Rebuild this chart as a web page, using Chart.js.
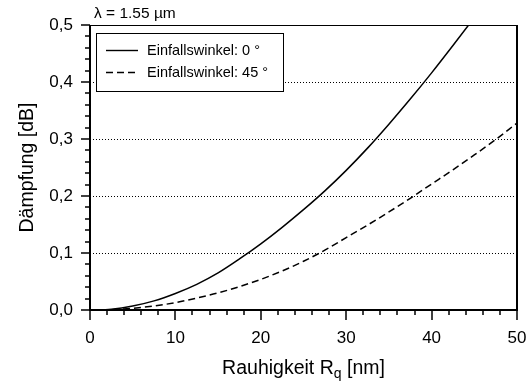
<!DOCTYPE html>
<html>
<head>
<meta charset="utf-8">
<script src="https://cdn.jsdelivr.net/npm/chart.js@4/dist/chart.umd.min.js"></script>
<style>
  body { margin: 0; background: #fff; }
  canvas { display: block; }
</style>
</head>
<body>
<canvas id="daempfungChart" width="527" height="387"></canvas>
<script>
// values
const roughness = [0, 2.5, 5, 7.5, 10, 12.5, 15, 17.5, 20, 22.5, 25, 27.5, 30, 32.5, 35, 37.5, 40, 42.5, 45, 47.5, 50];
const angle0 = [0, 0.0015, 0.007, 0.016, 0.029, 0.045, 0.065, 0.0895, 0.116, 0.145, 0.176, 0.209, 0.245, 0.284, 0.326, 0.370, 0.416, 0.464, 0.513, 0.563, 0.614];
const angle45 = [0, 0.0005, 0.003, 0.007, 0.013, 0.021, 0.030, 0.041, 0.0537, 0.0685, 0.0855, 0.105, 0.127, 0.149, 0.172, 0.196, 0.221, 0.246, 0.272, 0.299, 0.328];
const seriesLabels = ['Einfallswinkel: 0 °', 'Einfallswinkel: 45 °'];
const xTicks = [0, 10, 20, 30, 40, 50];
const yTicks = [0, 0.1, 0.2, 0.3, 0.4, 0.5];

const FONT = "'Liberation Sans', Arial, sans-serif";
Chart.defaults.font.family = FONT;
Chart.defaults.color = '#000';

function toPoints(ys) {
    return roughness.map((x, i) => ({ x: x, y: ys[i] }));
}

// frame, ticks, grid, legend and titles
const decorations = {
    id: 'decorations',
    beforeDatasetsDraw(chart) {
        const { ctx, chartArea: { left, right }, scales: { y } } = chart;
        ctx.save();
        ctx.strokeStyle = '#000';
        ctx.lineWidth = 1;
        ctx.setLineDash([1, 2]);
        yTicks.slice(1, -1).forEach(v => {
            const py = Math.round(y.getPixelForValue(v)) + 0.5;
            ctx.beginPath();
            ctx.moveTo(left, py);
            ctx.lineTo(right, py);
            ctx.stroke();
        });
        ctx.restore();
    },
    afterDraw(chart) {
        const { ctx, chartArea: { left, right, top, bottom }, scales: { x, y } } = chart;
        ctx.save();
        ctx.strokeStyle = '#000';
        ctx.fillStyle = '#000';

        // top border (thin) and right border
        ctx.lineWidth = 1.2;
        ctx.beginPath();
        ctx.moveTo(left, top + 0.5);
        ctx.lineTo(right, top + 0.5);
        ctx.stroke();
        ctx.lineWidth = 2;
        ctx.beginPath();
        ctx.moveTo(right, top);
        ctx.lineTo(right, bottom);
        ctx.stroke();

        // ticks
        ctx.lineWidth = 1.5;
        for (let v = 0; v <= 50.001; v += 2) {
            const px = Math.round(x.getPixelForValue(v));
            const len = Math.abs(v % 10) < 0.01 ? 10 : 5;
            ctx.beginPath();
            ctx.moveTo(px, bottom);
            ctx.lineTo(px, bottom + len);
            ctx.stroke();
        }
        for (let i = 0; i <= 25; i++) {
            const py = Math.round(y.getPixelForValue(i * 0.02));
            const len = i % 5 === 0 ? 9 : 5;
            ctx.beginPath();
            ctx.moveTo(left, py);
            ctx.lineTo(left - len, py);
            ctx.stroke();
        }

        // thick left and bottom axes
        ctx.lineWidth = 2;
        ctx.beginPath();
        ctx.moveTo(left, top);
        ctx.lineTo(left, bottom);
        ctx.lineTo(right + 1, bottom);
        ctx.stroke();

        // legend box
        const bx = left + 6.5, by = top + 8.5, bw = 187, bh = 58;
        ctx.fillStyle = '#fff';
        ctx.fillRect(bx, by, bw, bh);
        ctx.lineWidth = 1;
        ctx.strokeRect(bx, by, bw, bh);
        ctx.fillStyle = '#000';
        ctx.font = '14.5px ' + FONT;
        ctx.textBaseline = 'middle';
        ctx.textAlign = 'left';
        chart.data.datasets.forEach((ds, i) => {
            const ly = by + 17 + i * 22;
            ctx.lineWidth = 1.4;
            ctx.setLineDash(ds.borderDash || []);
            ctx.beginPath();
            ctx.moveTo(bx + 9.5, ly);
            ctx.lineTo(bx + 41.5, ly);
            ctx.stroke();
            ctx.setLineDash([]);
            ctx.fillText(ds.label, bx + 50.5, ly);
        });

        // wavelength label
        ctx.textBaseline = 'alphabetic';
        ctx.font = '15.5px ' + FONT;
        ctx.fillText('λ = 1.55 µm', left + 4, top - 7);

        // x axis title with subscript
        const main = 'Rauhigkeit R', sub = 'q', tail = ' [nm]';
        const big = '19.5px ' + FONT, small = '14px ' + FONT;
        ctx.font = big;
        const w1 = ctx.measureText(main).width;
        const w3 = ctx.measureText(tail).width;
        ctx.font = small;
        const w2 = ctx.measureText(sub).width;
        const tx = (left + right) / 2 - (w1 + w2 + w3) / 2;
        const ty = 374;
        ctx.font = big;
        ctx.fillText(main, tx, ty);
        ctx.font = small;
        ctx.fillText(sub, tx + w1, ty + 4);
        ctx.font = big;
        ctx.fillText(tail, tx + w1 + w2, ty);

        // y axis title
        ctx.translate(33, (top + bottom) / 2);
        ctx.rotate(-Math.PI / 2);
        ctx.textAlign = 'center';
        ctx.fillText('Dämpfung [dB]', 0, 0);
        ctx.restore();
    }
};

const ctx = document.getElementById('daempfungChart').getContext('2d');
const daempfungChart = new Chart(ctx, {
    type: 'line',
    data: {
        datasets: [
            {
                label: seriesLabels[0],
                data: toPoints(angle0),
                borderColor: '#000',
                borderWidth: 1.5,
                pointRadius: 0,
                cubicInterpolationMode: 'monotone'
            },
            {
                label: seriesLabels[1],
                data: toPoints(angle45),
                borderColor: '#000',
                borderWidth: 1.5,
                borderDash: [7, 4],
                pointRadius: 0,
                cubicInterpolationMode: 'monotone'
            }
        ]
    },
    options: {
        responsive: false,
        animation: false,
        layout: { padding: { left: 0, top: 25, right: 10, bottom: 0 } },
        plugins: {
            legend: { display: false },
            tooltip: { enabled: false }
        },
        scales: {
            x: {
                type: 'linear',
                min: 0,
                max: 50,
                afterBuildTicks: (s) => { s.ticks = xTicks.map(v => ({ value: v })); },
                afterFit: (s) => { s.height = 77; s.paddingLeft = 0; s.paddingRight = 0; },
                grid: { display: false, drawTicks: false },
                border: { display: false },
                ticks: { padding: 18, font: { size: 17 }, maxRotation: 0 }
            },
            y: {
                min: 0,
                max: 0.5,
                afterBuildTicks: (s) => { s.ticks = yTicks.map(v => ({ value: v })); },
                afterFit: (s) => { s.width = 90; s.paddingTop = 0; s.paddingBottom = 0; },
                grid: { display: false, drawTicks: false },
                border: { display: false },
                ticks: {
                    padding: 17,
                    font: { size: 17 },
                    callback: (v) => v.toFixed(1).replace('.', ',')
                }
            }
        }
    },
    plugins: [decorations]
});
</script>
</body>
</html>
